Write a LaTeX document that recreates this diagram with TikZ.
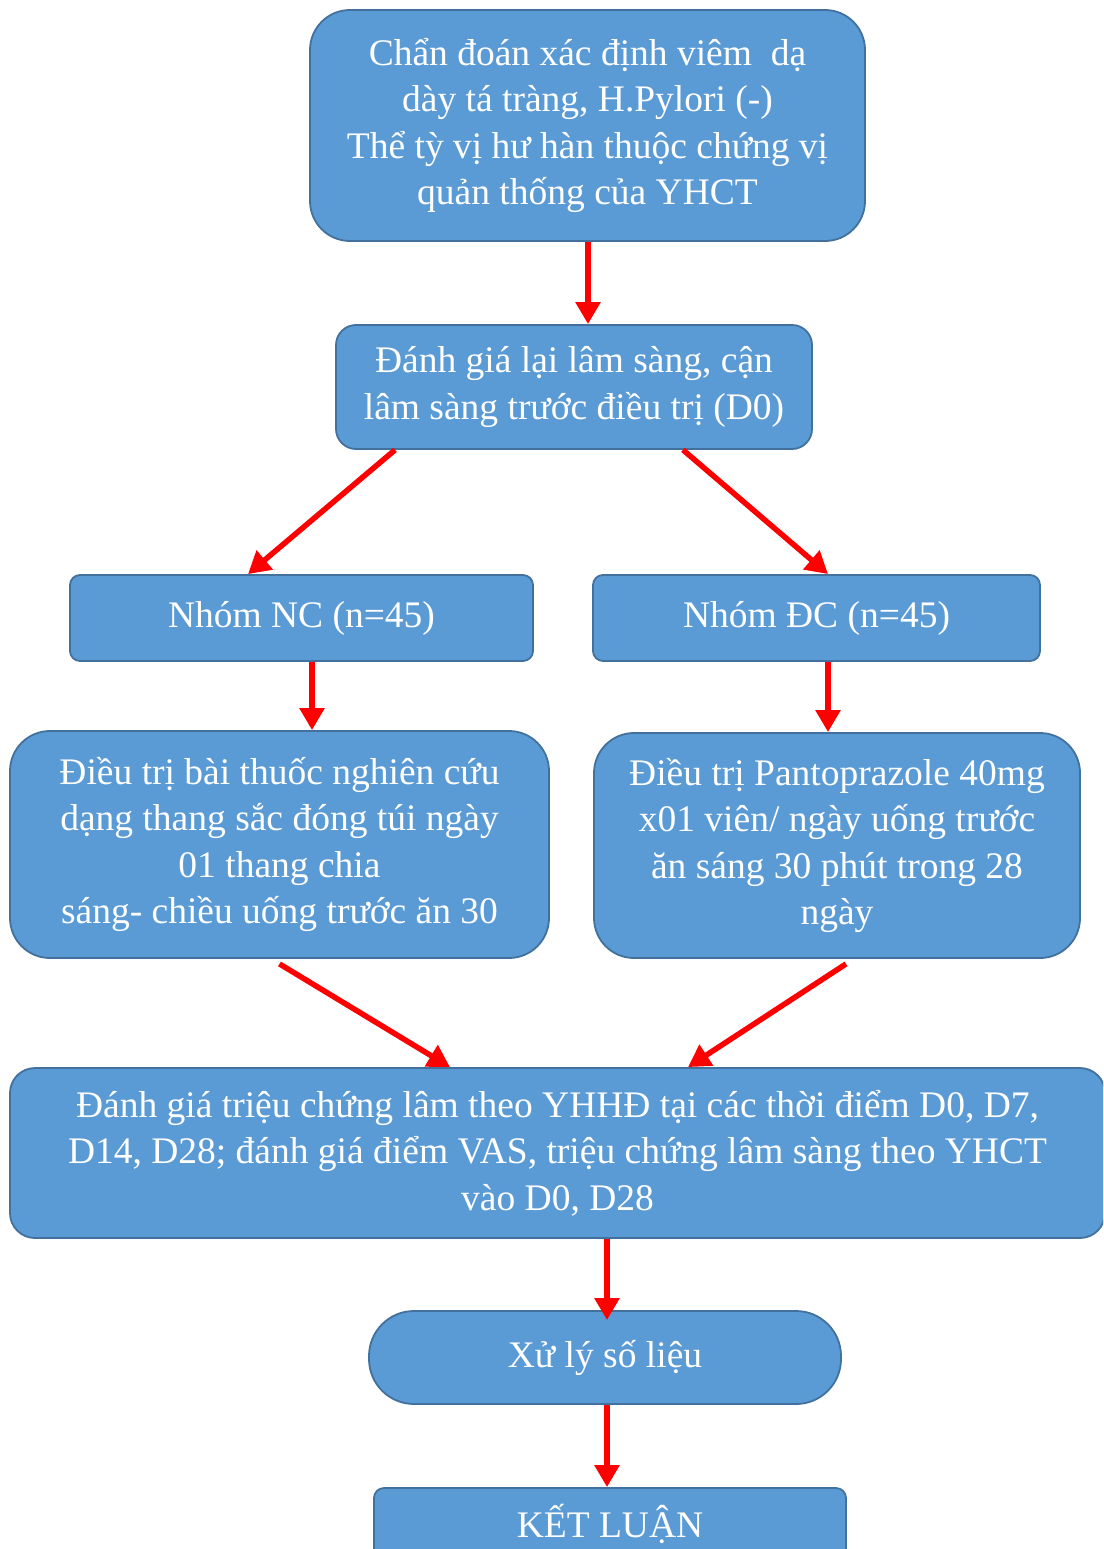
\documentclass[tikz,border=0pt]{standalone}
\usepackage{fontspec}
\setmainfont{Liberation Serif}
\usetikzlibrary{arrows.meta}
\definecolor{boxfill}{HTML}{5B9BD5}
\definecolor{boxline}{HTML}{41719C}
\tikzset{
  box/.style={draw=boxline, fill=boxfill, line width=1.8pt, text=white, align=center,
    font=\fontsize{37.5}{46.5}\selectfont, inner sep=0pt},
  arr/.style={draw=red, line width=5.5pt, -{Triangle[length=22pt,width=24pt]}},
}
\begin{document}
\begin{tikzpicture}[x=1pt,y=-1pt]
\useasboundingbox (0,0) rectangle (1103,1549);
\clip (0,0) rectangle (1103,1549);
\fill[white] (0,0) rectangle (1103,1549);

\node[box, minimum width=555pt, minimum height=231pt, rounded corners=40pt] (n1) at (587.5,125.5)
  {Chẩn đoán xác định viêm\ \ dạ\\dày tá tràng, H.Pylori (-)\\Thể tỳ vị hư hàn thuộc chứng vị\\quản thống của YHCT};
\node[box, minimum width=476pt, minimum height=124pt, rounded corners=20pt] (n2) at (574,387)
  {Đánh giá lại lâm sàng, cận\\lâm sàng trước điều trị (D0)};
\node[box, minimum width=463pt, minimum height=86pt, rounded corners=10pt] (nc) at (301.5,618)
  {Nhóm NC (n=45)};
\node[box, minimum width=447pt, minimum height=86pt, rounded corners=10pt] (dc) at (816.5,618)
  {Nhóm ĐC (n=45)};
\node[box, minimum width=539pt, minimum height=227pt, rounded corners=40pt] (t1) at (279.5,844.5)
  {Điều trị bài thuốc nghiên cứu\\dạng thang sắc đóng túi ngày\\01 thang chia\\sáng- chiều uống trước ăn 30};
\node[box, minimum width=486pt, minimum height=225pt, rounded corners=40pt] (t2) at (837,845.5)
  {Điều trị Pantoprazole 40mg\\x01 viên/ ngày uống trước\\ăn sáng 30 phút trong 28\\ngày};
\node[box, minimum width=1095pt, minimum height=170pt, rounded corners=25pt] (ev) at (557.5,1153)
  {Đánh giá triệu chứng lâm theo YHHĐ tại các thời điểm D0, D7,\\D14, D28; đánh giá điểm VAS, triệu chứng lâm sàng theo YHCT\\vào D0, D28};
\node[box, minimum width=472pt, minimum height=93pt, rounded corners=45pt] (xl) at (605,1357.5)
  {Xử lý số liệu};
\node[box, minimum width=472pt, minimum height=72pt, rounded corners=10pt] (kl) at (610,1524)
  {KẾT LUẬN};

\draw[arr] ([xshift=0.5pt]n1.south) -- ([xshift=0.5pt]n1.south |- n2.north);
\draw[arr] ([xshift=-179pt]n2.south) -- ([xshift=-53.5pt]nc.north);
\draw[arr] ([xshift=109pt]n2.south) -- ([xshift=11.5pt]dc.north);
\draw[arr] ([xshift=10.5pt]nc.south) -- ([xshift=10.5pt]nc.south |- t1.north);
\draw[arr] ([xshift=11.5pt]dc.south) -- ([xshift=11.5pt]dc.south |- t2.north);
\draw[arr] ([yshift=-5pt]t1.south) -- ([xshift=-107.5pt]ev.north);
\draw[arr] ([xshift=9pt,yshift=-5pt]t2.south) -- ([xshift=130.5pt]ev.north);
\draw[arr] ([xshift=49.5pt]ev.south) -- ([xshift=49.5pt,yshift=-10pt]ev.south |- xl.north);
\draw[arr] ([xshift=2pt]xl.south) -- ([xshift=2pt]xl.south |- kl.north);
\end{tikzpicture}
\end{document}
